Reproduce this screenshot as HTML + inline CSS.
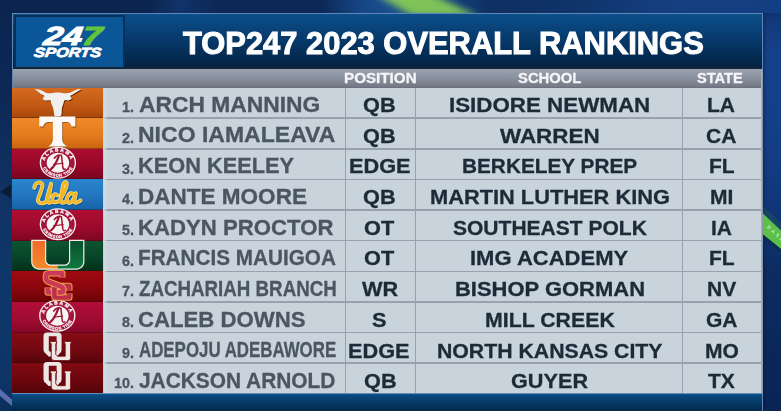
<!DOCTYPE html>
<html><head><meta charset="utf-8"><style>
html,body{margin:0;padding:0}
body{width:781px;height:411px;overflow:hidden;position:relative;background:#10295a;font-family:'Liberation Sans', sans-serif}
.t{position:absolute;white-space:nowrap;font-weight:bold;line-height:normal;transform-origin:0 0;-webkit-text-stroke:0.3px currentColor}
.bg{position:absolute;left:0;top:0;width:781px;height:411px}
.lg{position:absolute;left:12px;width:91.5px}
.sep{position:absolute;left:103px;width:659px;height:1.5px;background:#97a2ae}
.lsep{position:absolute;left:12px;width:91px;height:1px;background:rgba(40,10,0,.35)}
.vl{position:absolute;top:87.5px;height:306px;width:1.5px;background:#97a2ae}
</style></head><body>
<div class="bg" style="background:linear-gradient(180deg,#0b2550 0%,#0c2855 22%,#0f3364 48%,#0e386a 72%,#0d3667 92%,#0b2d5a 100%)"></div>
<!-- right side bg -->
<div style="position:absolute;left:763px;top:0;width:18px;height:411px;background:linear-gradient(90deg,rgba(5,20,50,.35),rgba(5,20,50,0) 4px),linear-gradient(180deg,#0b2858 0%,#123a7a 5%,#16418a 14%,#143e84 35%,#103678 50%,#0c2c62 66%,#0a2454 100%)"></div>
<!-- top strip bg -->
<div style="position:absolute;left:0;top:0;width:781px;height:13px;background:linear-gradient(90deg,#0b2550 0%,#0b2550 19%,#10336a 23%,#0c2856 28%,#0c2856 41%,#174584 46%,#1a4e90 50%,#14407a 58%,#0e2f62 63%,#0f3368 72%,#143f80 86%,#133e82 100%)"></div>
<!-- green streak top -->
<svg style="position:absolute;left:0;top:0" width="781" height="13"><defs><filter id="gb" x="-50%" y="-200%" width="200%" height="500%"><feGaussianBlur stdDeviation="5 3"/></filter></defs>
<polygon points="372,-8 428,-8 478,16 412,16" fill="#84c957" filter="url(#gb)" opacity="0.95"/></svg>
<!-- green stripe right -->
<svg style="position:absolute;left:763px;top:195px" width="18" height="70"><defs><filter id="gb2"><feGaussianBlur stdDeviation="0.5"/></filter></defs>
<polygon points="0,11 18,28 18,35.5 0,18.5" fill="#2a6a50" opacity="0.3" filter="url(#gb2)"/>
<polygon points="0,18.5 18,35.5 18,54 0,39.5" fill="#5dc04a"/>
<polygon points="0,39.5 18,54 18,57 0,43" fill="#0b2a45" opacity="0.7"/>
<text x="0" y="0" font-family="Liberation Sans" font-weight="bold" font-size="5" letter-spacing="2.2" fill="#d7f5cf" opacity="0.8" transform="translate(3.5,32.5) rotate(42)">BASE</text>
</svg>
<!-- bottom-left lavender stripe -->
<svg style="position:absolute;left:0;top:385px" width="12" height="26"><polygon points="0,4 12,14.5 12,21 0,11" fill="#5a6cb0"/></svg>
<!-- left triangle -->
<svg style="position:absolute;left:0;top:180px" width="12" height="22"><path d="M0 12 L11 4 L11 18 Z" fill="#0b1c36"/></svg>

<!-- panel -->
<div style="position:absolute;left:11.5px;top:13px;width:751px;height:400px;border:1px solid #6386b6;box-sizing:border-box;background:#0a2d52"></div>
<!-- header title band -->
<div style="position:absolute;left:12.5px;top:14px;width:749px;height:54px;background:linear-gradient(180deg,#0c4f8b 0%,#073a6c 45%,#03213f 100%)"></div>
<!-- logo box -->
<div style="position:absolute;left:14px;top:15px;width:111px;height:54px;background:#07305a"></div>
<div style="position:absolute;left:16px;top:17px;width:107.2px;height:50px;background:#0b5697"></div>
<!-- dark separator -->
<div style="position:absolute;left:12.5px;top:67px;width:749px;height:2px;background:#15263a"></div>
<!-- gray header band -->
<div style="position:absolute;left:12.5px;top:69px;width:749px;height:19.5px;background:linear-gradient(180deg,#9aa2b0 0%,#8b92a0 40%,#737985 88%,#5d636d 100%)"></div>
<!-- table cells -->
<div style="position:absolute;left:103px;top:87.5px;width:659px;height:306px;background:#c9d3dc"></div>
<div class="lg" style="top:87.50px;height:30.83px;background:linear-gradient(#d46a1e,#c35a14 55%,#a9480a)"></div>
<div class="lg" style="top:118.13px;height:30.83px;background:linear-gradient(#ee8a2a,#e47b1f 55%,#c9630f)"></div>
<div class="sep" style="top:117.38px"></div>
<div class="lsep" style="top:117.13px"></div>
<div class="lg" style="top:148.76px;height:30.83px;background:linear-gradient(#aa0c30,#960828 55%,#76041e)"></div>
<div class="sep" style="top:148.01px"></div>
<div class="lsep" style="top:147.76px"></div>
<div class="lg" style="top:179.39px;height:30.83px;background:linear-gradient(#2a86cc,#2276bf 55%,#1662a6)"></div>
<div class="sep" style="top:178.64px"></div>
<div class="lsep" style="top:178.39px"></div>
<div class="lg" style="top:210.02px;height:30.83px;background:linear-gradient(#b00e34,#9c0a2c 55%,#7e0620)"></div>
<div class="sep" style="top:209.27px"></div>
<div class="lsep" style="top:209.02px"></div>
<div class="lg" style="top:240.65px;height:30.83px;background:linear-gradient(#0d5532,#084427 55%,#04301a)"></div>
<div class="sep" style="top:239.90px"></div>
<div class="lsep" style="top:239.65px"></div>
<div class="lg" style="top:271.28px;height:30.83px;background:linear-gradient(#a00a12,#8a060c 55%,#6c0306)"></div>
<div class="sep" style="top:270.53px"></div>
<div class="lsep" style="top:270.28px"></div>
<div class="lg" style="top:301.91px;height:30.83px;background:linear-gradient(#b20e3a,#a00b31 55%,#840727)"></div>
<div class="sep" style="top:301.16px"></div>
<div class="lsep" style="top:300.91px"></div>
<div class="lg" style="top:332.54px;height:30.83px;background:linear-gradient(#860c16,#720810 55%,#56040a)"></div>
<div class="sep" style="top:331.79px"></div>
<div class="lsep" style="top:331.54px"></div>
<div class="lg" style="top:363.17px;height:30.83px;background:linear-gradient(#820a12,#6c060e 55%,#520308)"></div>
<div class="sep" style="top:362.42px"></div>
<div class="lsep" style="top:362.17px"></div>
<div class="vl" style="left:344.5px"></div>
<div class="vl" style="left:414.8px"></div>
<div class="vl" style="left:681.8px"></div>
<div style="position:absolute;left:103px;top:87.5px;width:5px;height:306px;background:linear-gradient(90deg,#d6dee6,rgba(214,222,230,0))"></div>
<div style="position:absolute;left:760.6px;top:69px;width:2px;height:324px;background:linear-gradient(90deg,#aeb8c4,#7f8fa3)"></div>
<!-- bottom bar -->
<div style="position:absolute;left:12px;top:393px;width:750px;height:18px;background:linear-gradient(180deg,#8fb0d0 0px,#0b4d88 1.5px,#084478 25%,#053660 65%,#03294a 100%)"></div>
<svg style="position:absolute;left:0;top:0" width="781" height="411" viewBox="0 0 781 411">
<defs>
<filter id="sh" x="-20%" y="-20%" width="140%" height="140%"><feGaussianBlur stdDeviation="0.6"/></filter>
<linearGradient id="mo" x1="0" y1="0" x2="0" y2="1"><stop offset="0" stop-color="#f26a2a"/><stop offset="1" stop-color="#f48a2a"/></linearGradient>
<linearGradient id="mg" x1="0" y1="0" x2="0" y2="1"><stop offset="0" stop-color="#0a4f2c"/><stop offset="1" stop-color="#0d7a3e"/></linearGradient>
<clipPath id="mcl"><rect x="0" y="0" width="57.6" height="411"/></clipPath>
<clipPath id="mcr"><rect x="57.6" y="0" width="100" height="411"/></clipPath>
</defs>
<path d="M 34.33 88.96 C 35.24 89.09 37.97 89.16 39.78 89.74 C 41.60 90.31 43.74 91.81 45.23 92.38 C 46.72 92.95 46.66 93.16 48.73 93.16 C 50.81 93.16 54.76 92.38 57.68 92.38 C 60.60 92.38 64.04 93.19 66.24 93.16 C 68.45 93.13 69.22 92.80 70.91 92.23 C 72.60 91.65 74.59 90.31 76.36 89.74 C 78.12 89.16 80.64 88.96 81.49 88.80 C 81.03 89.14 80.07 89.93 78.69 90.82 C 77.32 91.72 74.65 93.32 73.25 94.17 C 71.84 95.03 70.52 95.22 70.29 95.96 C 70.05 96.70 72.13 97.87 71.84 98.61 C 71.56 99.35 69.77 100.14 68.58 100.40 C 67.38 100.66 65.57 99.55 64.68 100.16 C 63.80 100.77 63.75 102.65 63.28 104.05 C 62.82 105.46 62.14 107.17 61.88 108.57 C 61.62 109.97 61.88 111.27 61.73 112.46 C 61.57 113.65 61.62 115.08 60.95 115.73 C 60.27 116.38 58.72 116.32 57.68 116.35 C 56.64 116.38 55.35 116.53 54.72 115.88 C 54.10 115.23 54.20 113.74 53.95 112.46 C 53.69 111.18 53.62 109.71 53.17 108.18 C 52.71 106.65 51.69 104.59 51.22 103.28 C 50.75 101.97 51.34 100.79 50.37 100.32 C 49.39 99.85 46.66 100.79 45.39 100.47 C 44.11 100.16 42.89 99.18 42.74 98.45 C 42.58 97.73 44.81 96.89 44.45 96.12 C 44.09 95.34 41.83 94.66 40.56 93.78 C 39.29 92.90 37.86 91.63 36.82 90.82 C 35.79 90.02 34.75 89.27 34.33 88.96 Z" fill="#4a1f05" opacity="0.75" transform="translate(0.9,0.9)" filter="url(#sh)"/>
<path d="M 34.33 88.96 C 35.24 89.09 37.97 89.16 39.78 89.74 C 41.60 90.31 43.74 91.81 45.23 92.38 C 46.72 92.95 46.66 93.16 48.73 93.16 C 50.81 93.16 54.76 92.38 57.68 92.38 C 60.60 92.38 64.04 93.19 66.24 93.16 C 68.45 93.13 69.22 92.80 70.91 92.23 C 72.60 91.65 74.59 90.31 76.36 89.74 C 78.12 89.16 80.64 88.96 81.49 88.80 C 81.03 89.14 80.07 89.93 78.69 90.82 C 77.32 91.72 74.65 93.32 73.25 94.17 C 71.84 95.03 70.52 95.22 70.29 95.96 C 70.05 96.70 72.13 97.87 71.84 98.61 C 71.56 99.35 69.77 100.14 68.58 100.40 C 67.38 100.66 65.57 99.55 64.68 100.16 C 63.80 100.77 63.75 102.65 63.28 104.05 C 62.82 105.46 62.14 107.17 61.88 108.57 C 61.62 109.97 61.88 111.27 61.73 112.46 C 61.57 113.65 61.62 115.08 60.95 115.73 C 60.27 116.38 58.72 116.32 57.68 116.35 C 56.64 116.38 55.35 116.53 54.72 115.88 C 54.10 115.23 54.20 113.74 53.95 112.46 C 53.69 111.18 53.62 109.71 53.17 108.18 C 52.71 106.65 51.69 104.59 51.22 103.28 C 50.75 101.97 51.34 100.79 50.37 100.32 C 49.39 99.85 46.66 100.79 45.39 100.47 C 44.11 100.16 42.89 99.18 42.74 98.45 C 42.58 97.73 44.81 96.89 44.45 96.12 C 44.09 95.34 41.83 94.66 40.56 93.78 C 39.29 92.90 37.86 91.63 36.82 90.82 C 35.79 90.02 34.75 89.27 34.33 88.96 Z" fill="#f1efee"/>
<path d="M 39.3 116.4 L 75.4 116.4 L 75.4 126.6 L 71.6 126.6 C 71.2 123.8 69.5 122 65.5 122 L 62.3 122 L 62.3 139.5 C 62.3 142.5 64 144.5 67.2 146.6 L 48.3 146.6 C 51.3 144.5 52.9 142.5 52.9 139.5 L 52.9 122 L 49.5 122 C 45.5 122 43.8 123.8 43.4 126.6 L 39.3 126.6 Z" fill="#5a2a06" opacity="0.6" transform="translate(0.8,0.8)" filter="url(#sh)"/>
<path d="M 39.3 116.4 L 75.4 116.4 L 75.4 126.6 L 71.6 126.6 C 71.2 123.8 69.5 122 65.5 122 L 62.3 122 L 62.3 139.5 C 62.3 142.5 64 144.5 67.2 146.6 L 48.3 146.6 C 51.3 144.5 52.9 142.5 52.9 139.5 L 52.9 122 L 49.5 122 C 45.5 122 43.8 123.8 43.4 126.6 L 39.3 126.6 Z" fill="#fbf8f6"/>
<ellipse cx="57.9" cy="162.8" rx="18.2" ry="16.0" fill="#f3eef0"/>
<ellipse cx="57.9" cy="162.8" rx="16.8" ry="14.7" fill="#a3163a"/>
<ellipse cx="57.9" cy="162.8" rx="11.2" ry="10.0" fill="#f7f4f5"/>
<defs><path id="ta1" d="M 44.599999999999994 162.8 A 13.3 11.4 0 0 1 71.2 162.8"/><path id="tb1" d="M 42.099999999999994 162.8 A 15.8 14.0 0 0 0 73.7 162.8"/></defs>
<text opacity="0.99" font-family="Liberation Sans" font-weight="bold" font-size="4.8" fill="#fbf2f4" stroke="#fbf2f4" stroke-width="0.3" letter-spacing="1.5"><textPath href="#ta1" startOffset="50%" text-anchor="middle">ALABAMA</textPath></text>
<text opacity="0.99" font-family="Liberation Sans" font-weight="bold" font-size="4.0" fill="#fbf2f4" stroke="#fbf2f4" stroke-width="0.25" letter-spacing="0.6"><textPath href="#tb1" startOffset="50%" text-anchor="middle">CRIMSON TIDE</textPath></text>
<g transform="translate(57.5,162.8)" fill="none" stroke="#a0142f" stroke-linecap="round" stroke-linejoin="round"><path d="M -6.5 6.2 Q -2.5 3.5 1.2 -6.5" stroke-width="2.2"/><path d="M -3.2 -4.6 Q 0 -9 4 -7.4 L 5.4 5.2 Q 5.9 7.2 7.8 6.2" stroke-width="1.5"/><path d="M -3.8 1.6 L 5.6 0.4" stroke-width="1.1"/><path d="M -6.2 6.3 Q -8.5 7.8 -9.6 5.2" stroke-width="1.1"/></g>
<ellipse cx="57.9" cy="224.2" rx="18.2" ry="16.0" fill="#f3eef0"/>
<ellipse cx="57.9" cy="224.2" rx="16.8" ry="14.7" fill="#a3163a"/>
<ellipse cx="57.9" cy="224.2" rx="11.2" ry="10.0" fill="#f7f4f5"/>
<defs><path id="ta2" d="M 44.599999999999994 224.2 A 13.3 11.4 0 0 1 71.2 224.2"/><path id="tb2" d="M 42.099999999999994 224.2 A 15.8 14.0 0 0 0 73.7 224.2"/></defs>
<text opacity="0.99" font-family="Liberation Sans" font-weight="bold" font-size="4.8" fill="#fbf2f4" stroke="#fbf2f4" stroke-width="0.3" letter-spacing="1.5"><textPath href="#ta2" startOffset="50%" text-anchor="middle">ALABAMA</textPath></text>
<text opacity="0.99" font-family="Liberation Sans" font-weight="bold" font-size="4.0" fill="#fbf2f4" stroke="#fbf2f4" stroke-width="0.25" letter-spacing="0.6"><textPath href="#tb2" startOffset="50%" text-anchor="middle">CRIMSON TIDE</textPath></text>
<g transform="translate(57.5,224.2)" fill="none" stroke="#a0142f" stroke-linecap="round" stroke-linejoin="round"><path d="M -6.5 6.2 Q -2.5 3.5 1.2 -6.5" stroke-width="2.2"/><path d="M -3.2 -4.6 Q 0 -9 4 -7.4 L 5.4 5.2 Q 5.9 7.2 7.8 6.2" stroke-width="1.5"/><path d="M -3.8 1.6 L 5.6 0.4" stroke-width="1.1"/><path d="M -6.2 6.3 Q -8.5 7.8 -9.6 5.2" stroke-width="1.1"/></g>
<ellipse cx="57.3" cy="315.7" rx="18.2" ry="16.0" fill="#f3eef0"/>
<ellipse cx="57.3" cy="315.7" rx="16.8" ry="14.7" fill="#a3163a"/>
<ellipse cx="57.3" cy="315.7" rx="11.2" ry="10.0" fill="#f7f4f5"/>
<defs><path id="ta3" d="M 44.0 315.7 A 13.3 11.4 0 0 1 70.6 315.7"/><path id="tb3" d="M 41.5 315.7 A 15.8 14.0 0 0 0 73.1 315.7"/></defs>
<text opacity="0.99" font-family="Liberation Sans" font-weight="bold" font-size="4.8" fill="#fbf2f4" stroke="#fbf2f4" stroke-width="0.3" letter-spacing="1.5"><textPath href="#ta3" startOffset="50%" text-anchor="middle">ALABAMA</textPath></text>
<text opacity="0.99" font-family="Liberation Sans" font-weight="bold" font-size="4.0" fill="#fbf2f4" stroke="#fbf2f4" stroke-width="0.25" letter-spacing="0.6"><textPath href="#tb3" startOffset="50%" text-anchor="middle">CRIMSON TIDE</textPath></text>
<g transform="translate(56.9,315.7)" fill="none" stroke="#a0142f" stroke-linecap="round" stroke-linejoin="round"><path d="M -6.5 6.2 Q -2.5 3.5 1.2 -6.5" stroke-width="2.2"/><path d="M -3.2 -4.6 Q 0 -9 4 -7.4 L 5.4 5.2 Q 5.9 7.2 7.8 6.2" stroke-width="1.5"/><path d="M -3.8 1.6 L 5.6 0.4" stroke-width="1.1"/><path d="M -6.2 6.3 Q -8.5 7.8 -9.6 5.2" stroke-width="1.1"/></g>
<path d="M 34.28 187.74 C 34.54 187.09 34.93 184.71 35.84 183.84 C 36.75 182.97 38.63 182.26 39.74 182.52 C 40.84 182.78 42.40 183.56 42.46 185.40 C 42.53 187.24 40.88 191.11 40.12 193.58 C 39.37 196.04 37.88 198.61 37.94 200.20 C 38.01 201.78 39.31 202.73 40.51 203.08 C 41.72 203.43 43.82 203.36 45.19 202.30 C 46.55 201.23 47.69 199.77 48.69 196.69 C 49.69 193.62 50.77 185.98 51.18 183.84  M 51.18 183.84 C 50.77 185.20 49.39 189.29 48.69 192.02 C 47.99 194.74 46.91 198.40 46.98 200.20 C 47.04 201.99 48.15 202.51 49.08 202.77 C 50.02 203.03 52.00 201.92 52.59 201.75  M 57.41 195.29 C 57.02 195.11 55.88 193.86 55.08 194.20 C 54.27 194.54 52.90 196.07 52.59 197.31 C 52.27 198.56 52.56 200.87 53.21 201.68 C 53.86 202.48 55.44 202.30 56.48 202.14 C 57.52 201.99 58.95 200.98 59.44 200.74  M 59.44 200.74 C 60.11 199.55 62.29 196.07 63.49 193.58 C 64.68 191.08 66.19 187.67 66.60 185.79 C 67.02 183.91 66.47 182.61 65.98 182.28 C 65.49 181.96 64.35 182.15 63.64 183.84 C 62.94 185.53 62.26 189.62 61.78 192.41 C 61.30 195.20 60.61 198.86 60.76 200.59 C 60.92 202.31 61.89 202.64 62.71 202.77 C 63.53 202.90 65.18 201.60 65.67 201.36  M 74.24 194.51 C 73.68 194.30 72.00 192.93 70.89 193.26 C 69.77 193.60 68.17 195.19 67.54 196.54 C 66.90 197.89 66.60 200.35 67.07 201.36 C 67.54 202.38 69.25 203.03 70.34 202.61 C 71.43 202.20 72.71 200.40 73.61 198.87 C 74.52 197.34 75.43 194.33 75.79 193.42  M 75.79 193.42 C 75.56 194.61 74.34 199.03 74.39 200.59 C 74.44 202.14 75.09 202.77 76.11 202.77 C 77.12 202.77 79.74 200.95 80.47 200.59 " fill="none" stroke="#0d3f70" stroke-width="4.6" stroke-linecap="round" stroke-linejoin="round" opacity="0.5" transform="translate(0.6,0.8)"/>
<path d="M 34.28 187.74 C 34.54 187.09 34.93 184.71 35.84 183.84 C 36.75 182.97 38.63 182.26 39.74 182.52 C 40.84 182.78 42.40 183.56 42.46 185.40 C 42.53 187.24 40.88 191.11 40.12 193.58 C 39.37 196.04 37.88 198.61 37.94 200.20 C 38.01 201.78 39.31 202.73 40.51 203.08 C 41.72 203.43 43.82 203.36 45.19 202.30 C 46.55 201.23 47.69 199.77 48.69 196.69 C 49.69 193.62 50.77 185.98 51.18 183.84  M 51.18 183.84 C 50.77 185.20 49.39 189.29 48.69 192.02 C 47.99 194.74 46.91 198.40 46.98 200.20 C 47.04 201.99 48.15 202.51 49.08 202.77 C 50.02 203.03 52.00 201.92 52.59 201.75  M 57.41 195.29 C 57.02 195.11 55.88 193.86 55.08 194.20 C 54.27 194.54 52.90 196.07 52.59 197.31 C 52.27 198.56 52.56 200.87 53.21 201.68 C 53.86 202.48 55.44 202.30 56.48 202.14 C 57.52 201.99 58.95 200.98 59.44 200.74  M 59.44 200.74 C 60.11 199.55 62.29 196.07 63.49 193.58 C 64.68 191.08 66.19 187.67 66.60 185.79 C 67.02 183.91 66.47 182.61 65.98 182.28 C 65.49 181.96 64.35 182.15 63.64 183.84 C 62.94 185.53 62.26 189.62 61.78 192.41 C 61.30 195.20 60.61 198.86 60.76 200.59 C 60.92 202.31 61.89 202.64 62.71 202.77 C 63.53 202.90 65.18 201.60 65.67 201.36  M 74.24 194.51 C 73.68 194.30 72.00 192.93 70.89 193.26 C 69.77 193.60 68.17 195.19 67.54 196.54 C 66.90 197.89 66.60 200.35 67.07 201.36 C 67.54 202.38 69.25 203.03 70.34 202.61 C 71.43 202.20 72.71 200.40 73.61 198.87 C 74.52 197.34 75.43 194.33 75.79 193.42  M 75.79 193.42 C 75.56 194.61 74.34 199.03 74.39 200.59 C 74.44 202.14 75.09 202.77 76.11 202.77 C 77.12 202.77 79.74 200.95 80.47 200.59 " fill="none" stroke="#f6e7a8" stroke-width="4.0" stroke-linecap="round" stroke-linejoin="round"/>
<path d="M 34.28 187.74 C 34.54 187.09 34.93 184.71 35.84 183.84 C 36.75 182.97 38.63 182.26 39.74 182.52 C 40.84 182.78 42.40 183.56 42.46 185.40 C 42.53 187.24 40.88 191.11 40.12 193.58 C 39.37 196.04 37.88 198.61 37.94 200.20 C 38.01 201.78 39.31 202.73 40.51 203.08 C 41.72 203.43 43.82 203.36 45.19 202.30 C 46.55 201.23 47.69 199.77 48.69 196.69 C 49.69 193.62 50.77 185.98 51.18 183.84  M 51.18 183.84 C 50.77 185.20 49.39 189.29 48.69 192.02 C 47.99 194.74 46.91 198.40 46.98 200.20 C 47.04 201.99 48.15 202.51 49.08 202.77 C 50.02 203.03 52.00 201.92 52.59 201.75  M 57.41 195.29 C 57.02 195.11 55.88 193.86 55.08 194.20 C 54.27 194.54 52.90 196.07 52.59 197.31 C 52.27 198.56 52.56 200.87 53.21 201.68 C 53.86 202.48 55.44 202.30 56.48 202.14 C 57.52 201.99 58.95 200.98 59.44 200.74  M 59.44 200.74 C 60.11 199.55 62.29 196.07 63.49 193.58 C 64.68 191.08 66.19 187.67 66.60 185.79 C 67.02 183.91 66.47 182.61 65.98 182.28 C 65.49 181.96 64.35 182.15 63.64 183.84 C 62.94 185.53 62.26 189.62 61.78 192.41 C 61.30 195.20 60.61 198.86 60.76 200.59 C 60.92 202.31 61.89 202.64 62.71 202.77 C 63.53 202.90 65.18 201.60 65.67 201.36  M 74.24 194.51 C 73.68 194.30 72.00 192.93 70.89 193.26 C 69.77 193.60 68.17 195.19 67.54 196.54 C 66.90 197.89 66.60 200.35 67.07 201.36 C 67.54 202.38 69.25 203.03 70.34 202.61 C 71.43 202.20 72.71 200.40 73.61 198.87 C 74.52 197.34 75.43 194.33 75.79 193.42  M 75.79 193.42 C 75.56 194.61 74.34 199.03 74.39 200.59 C 74.44 202.14 75.09 202.77 76.11 202.77 C 77.12 202.77 79.74 200.95 80.47 200.59 " fill="none" stroke="#f4b61e" stroke-width="2.7" stroke-linecap="round" stroke-linejoin="round"/>
<path d="M 31.2 239.8 L 46.2 239.8 L 46.2 259.5 C 46.2 263 48.5 264.6 51.5 264.6 L 63.8 264.6 C 66.8 264.6 69 263 69 259.5 L 69 239.8 L 84.4 239.8 L 84.4 261.5 C 84.4 267 80.5 269.8 75 269.8 L 40.5 269.8 C 35 269.8 31.2 267 31.2 261.5 Z" fill="#f2efe4"/>
<path d="M 32.4 241 L 45 241 L 45 259.5 C 45 263.8 47.8 265.8 51.5 265.8 L 63.8 265.8 C 67.5 265.8 70.2 263.8 70.2 259.5 L 70.2 241 L 83.2 241 L 83.2 261.5 C 83.2 266.2 79.8 268.6 75 268.6 L 40.5 268.6 C 35.8 268.6 32.4 266.2 32.4 261.5 Z" fill="url(#mo)" clip-path="url(#mcl)"/>
<path d="M 32.4 241 L 45 241 L 45 259.5 C 45 263.8 47.8 265.8 51.5 265.8 L 63.8 265.8 C 67.5 265.8 70.2 263.8 70.2 259.5 L 70.2 241 L 83.2 241 L 83.2 261.5 C 83.2 266.2 79.8 268.6 75 268.6 L 40.5 268.6 C 35.8 268.6 32.4 266.2 32.4 261.5 Z" fill="url(#mg)" clip-path="url(#mcr)"/>
<g fill="none" stroke-linejoin="round" stroke-linecap="butt">
<path d="M 69.2 290.4 V 286.1 H 56.6 Q 54.4 286.1 54.4 288.3 V 295.4 Q 54.4 297.5 56.6 297.5 H 69.2 V 293.6" stroke="#eea043" stroke-width="6.6"/>
<path d="M 69.2 290.4 V 286.1 H 56.6 Q 54.4 286.1 54.4 288.3 V 295.4 Q 54.4 297.5 56.6 297.5 H 69.2 V 293.6" stroke="#bd2d4c" stroke-width="4.6"/>
<path d="M 62.2 277.6 V 273.2 H 48.8 Q 46 273.2 46 276.2 V 278.6 Q 46 280.6 48.4 281.6 L 60.8 286.4 Q 63.2 287.4 63.2 289.6 V 290.6 Q 63.2 292.4 61.2 292.4 H 47.8 V 287.6" stroke="#eea043" stroke-width="6.6"/>
<path d="M 62.2 277.6 V 273.2 H 48.8 Q 46 273.2 46 276.2 V 278.6 Q 46 280.6 48.4 281.6 L 60.8 286.4 Q 63.2 287.4 63.2 289.6 V 290.6 Q 63.2 292.4 61.2 292.4 H 47.8 V 287.6" stroke="#c8385a" stroke-width="4.6"/>
<path d="M 54.4 288.5 V 295" stroke="#eea043" stroke-width="6.6"/>
<path d="M 54.4 287.6 V 296" stroke="#bd2d4c" stroke-width="4.6"/>
</g>
<g transform="translate(0,0.0)">
<path d="M 43.5 336 Q 43.5 332.4 47 332.4 H 58 Q 61.6 332.4 61.6 336 V 350 Q 61.6 352.6 58.8 354.2 L 57.2 356.6 H 48.6 L 46.4 354.2 Q 43.5 352.6 43.5 350 Z M 48.8 336.2 H 56.6 V 350.6 L 55.4 351.8 H 50 L 48.8 350.6 Z" fill="#ece7e4" fill-rule="evenodd"/>
<path d="M 50.2 341.4 H 56.6 V 343.6 H 55.8 V 354.4 L 57.4 356.2 H 65.2 V 343.6 H 64.4 V 341.4 H 71.2 V 343.6 H 70.6 V 358.2 Q 70.6 360.6 68.2 360.6 H 54.4 Q 51.2 360.6 51.2 357.4 V 343.6 H 50.2 Z" fill="#ece7e4" stroke="#7a0c10" stroke-width="0.9"/>
</g>
<g transform="translate(0,29.5)">
<path d="M 43.5 336 Q 43.5 332.4 47 332.4 H 58 Q 61.6 332.4 61.6 336 V 350 Q 61.6 352.6 58.8 354.2 L 57.2 356.6 H 48.6 L 46.4 354.2 Q 43.5 352.6 43.5 350 Z M 48.8 336.2 H 56.6 V 350.6 L 55.4 351.8 H 50 L 48.8 350.6 Z" fill="#ece7e4" fill-rule="evenodd"/>
<path d="M 50.2 341.4 H 56.6 V 343.6 H 55.8 V 354.4 L 57.4 356.2 H 65.2 V 343.6 H 64.4 V 341.4 H 71.2 V 343.6 H 70.6 V 358.2 Q 70.6 360.6 68.2 360.6 H 54.4 Q 51.2 360.6 51.2 357.4 V 343.6 H 50.2 Z" fill="#ece7e4" stroke="#7a0c10" stroke-width="0.9"/>
</g>
</svg>
<div class="t" style="left:138.54px;top:92.76px;font-size:21.37px;color:#4b5661;transform:scaleX(1.0680);">ARCH MANNING</div>
<div class="t" style="left:121.98px;top:99.28px;font-size:14.39px;color:#4b5661;transform:scaleX(0.9970);">1.</div>
<div class="t" style="left:362.99px;top:93.03px;font-size:21.08px;color:#1d2a37;transform:scaleX(1.0300);">QB</div>
<div class="t" style="left:449.26px;top:93.03px;font-size:21.08px;color:#1d2a37;transform:scaleX(1.0604);">ISIDORE NEWMAN</div>
<div class="t" style="left:707.35px;top:93.03px;font-size:21.08px;color:#1d2a37;transform:scaleX(0.9970);">LA</div>
<div class="t" style="left:137.62px;top:123.45px;font-size:21.37px;color:#4b5661;transform:scaleX(1.0775);">NICO IAMALEAVA</div>
<div class="t" style="left:121.98px;top:129.97px;font-size:14.39px;color:#4b5661;transform:scaleX(0.9970);">2.</div>
<div class="t" style="left:362.99px;top:123.72px;font-size:21.08px;color:#1d2a37;transform:scaleX(1.0300);">QB</div>
<div class="t" style="left:499.90px;top:123.72px;font-size:21.08px;color:#1d2a37;transform:scaleX(1.0633);">WARREN</div>
<div class="t" style="left:706.39px;top:123.72px;font-size:21.08px;color:#1d2a37;transform:scaleX(0.9970);">CA</div>
<div class="t" style="left:137.69px;top:154.14px;font-size:21.37px;color:#4b5661;transform:scaleX(1.0196);">KEON KEELEY</div>
<div class="t" style="left:121.98px;top:160.66px;font-size:14.39px;color:#4b5661;transform:scaleX(0.9970);">3.</div>
<div class="t" style="left:348.69px;top:154.41px;font-size:21.08px;color:#1d2a37;transform:scaleX(1.0300);">EDGE</div>
<div class="t" style="left:462.05px;top:154.41px;font-size:21.08px;color:#1d2a37;transform:scaleX(0.9859);">BERKELEY PREP</div>
<div class="t" style="left:708.51px;top:154.41px;font-size:21.08px;color:#1d2a37;transform:scaleX(0.9970);">FL</div>
<div class="t" style="left:137.65px;top:184.83px;font-size:21.37px;color:#4b5661;transform:scaleX(1.0545);">DANTE MOORE</div>
<div class="t" style="left:121.98px;top:191.35px;font-size:14.39px;color:#4b5661;transform:scaleX(0.9970);">4.</div>
<div class="t" style="left:363.24px;top:185.10px;font-size:21.08px;color:#1d2a37;transform:scaleX(1.0300);">QB</div>
<div class="t" style="left:430.39px;top:185.10px;font-size:21.08px;color:#1d2a37;transform:scaleX(1.0348);">MARTIN LUTHER KING</div>
<div class="t" style="left:710.07px;top:185.10px;font-size:21.08px;color:#1d2a37;transform:scaleX(0.9970);">MI</div>
<div class="t" style="left:137.67px;top:215.52px;font-size:21.37px;color:#4b5661;transform:scaleX(1.0385);">KADYN PROCTOR</div>
<div class="t" style="left:121.98px;top:222.04px;font-size:14.39px;color:#4b5661;transform:scaleX(0.9970);">5.</div>
<div class="t" style="left:364.35px;top:215.79px;font-size:21.08px;color:#1d2a37;transform:scaleX(1.0300);">OT</div>
<div class="t" style="left:452.88px;top:215.79px;font-size:21.08px;color:#1d2a37;transform:scaleX(0.9970);">SOUTHEAST POLK</div>
<div class="t" style="left:710.86px;top:215.79px;font-size:21.08px;color:#1d2a37;transform:scaleX(0.9970);">IA</div>
<div class="t" style="left:137.76px;top:246.21px;font-size:21.37px;color:#4b5661;transform:scaleX(0.9698);">FRANCIS MAUIGOA</div>
<div class="t" style="left:121.98px;top:252.73px;font-size:14.39px;color:#4b5661;transform:scaleX(0.9970);">6.</div>
<div class="t" style="left:364.35px;top:246.48px;font-size:21.08px;color:#1d2a37;transform:scaleX(1.0300);">OT</div>
<div class="t" style="left:470.28px;top:246.48px;font-size:21.08px;color:#1d2a37;transform:scaleX(1.0444);">IMG ACADEMY</div>
<div class="t" style="left:708.51px;top:246.48px;font-size:21.08px;color:#1d2a37;transform:scaleX(0.9970);">FL</div>
<div class="t" style="left:138.63px;top:276.90px;font-size:21.37px;color:#4b5661;transform:scaleX(0.8773);">ZACHARIAH BRANCH</div>
<div class="t" style="left:121.98px;top:283.42px;font-size:14.39px;color:#4b5661;transform:scaleX(0.9970);">7.</div>
<div class="t" style="left:361.90px;top:277.17px;font-size:21.08px;color:#1d2a37;transform:scaleX(1.0300);">WR</div>
<div class="t" style="left:454.68px;top:277.17px;font-size:21.08px;color:#1d2a37;transform:scaleX(1.0423);">BISHOP GORMAN</div>
<div class="t" style="left:706.50px;top:277.17px;font-size:21.08px;color:#1d2a37;transform:scaleX(0.9970);">NV</div>
<div class="t" style="left:138.11px;top:307.59px;font-size:21.37px;color:#4b5661;transform:scaleX(1.0383);">CALEB DOWNS</div>
<div class="t" style="left:121.98px;top:314.11px;font-size:14.39px;color:#4b5661;transform:scaleX(0.9970);">8.</div>
<div class="t" style="left:372.49px;top:307.86px;font-size:21.08px;color:#1d2a37;transform:scaleX(1.0300);">S</div>
<div class="t" style="left:484.62px;top:307.86px;font-size:21.08px;color:#1d2a37;transform:scaleX(1.0104);">MILL CREEK</div>
<div class="t" style="left:705.81px;top:307.86px;font-size:21.08px;color:#1d2a37;transform:scaleX(0.9970);">GA</div>
<div class="t" style="left:138.66px;top:338.28px;font-size:21.37px;color:#4b5661;transform:scaleX(0.7899);">ADEPOJU ADEBAWORE</div>
<div class="t" style="left:121.98px;top:344.80px;font-size:14.39px;color:#4b5661;transform:scaleX(0.9970);">9.</div>
<div class="t" style="left:348.49px;top:338.55px;font-size:21.08px;color:#1d2a37;transform:scaleX(1.0300);">EDGE</div>
<div class="t" style="left:437.03px;top:338.55px;font-size:21.08px;color:#1d2a37;transform:scaleX(1.0080);">NORTH KANSAS CITY</div>
<div class="t" style="left:704.59px;top:338.55px;font-size:21.08px;color:#1d2a37;transform:scaleX(0.9970);">MO</div>
<div class="t" style="left:138.79px;top:368.97px;font-size:21.37px;color:#4b5661;transform:scaleX(0.9771);">JACKSON ARNOLD</div>
<div class="t" style="left:113.97px;top:375.49px;font-size:14.39px;color:#4b5661;transform:scaleX(0.9970);">10.</div>
<div class="t" style="left:363.74px;top:369.24px;font-size:21.08px;color:#1d2a37;transform:scaleX(1.0300);">QB</div>
<div class="t" style="left:510.63px;top:369.24px;font-size:21.08px;color:#1d2a37;transform:scaleX(1.0278);">GUYER</div>
<div class="t" style="left:708.30px;top:369.24px;font-size:21.08px;color:#1d2a37;transform:scaleX(0.9970);">TX</div>
<div class="t" style="left:344.29px;top:70.41px;font-size:14.24px;color:#f4f5f7;transform:scaleX(1.0675);">POSITION</div>
<div class="t" style="left:518.30px;top:70.41px;font-size:14.24px;color:#f4f5f7;transform:scaleX(1.0406);">SCHOOL</div>
<div class="t" style="left:697.01px;top:70.41px;font-size:14.24px;color:#f4f5f7;transform:scaleX(1.0260);">STATE</div>
<div class="t" style="left:183.29px;top:26.18px;font-size:30.52px;color:#ffffff;transform:scaleX(1.0123);-webkit-text-stroke:1.0px #fff;">TOP247 2023 OVERALL RANKINGS</div>
<div class="t" style="left:46.30px;top:20.82px;font-size:26.16px;color:#ffffff;transform:scaleX(1.3303) skewX(-6deg);font-style:italic;-webkit-text-stroke:1.1px currentColor;">24<span style="color:#62c43c">7</span></div>
<div class="t" style="left:34.66px;top:44.50px;font-size:13.37px;color:#ffffff;transform:scaleX(1.2321) skewX(-6deg);font-style:italic;-webkit-text-stroke:0.7px currentColor;">SPORTS</div>
</body></html>
